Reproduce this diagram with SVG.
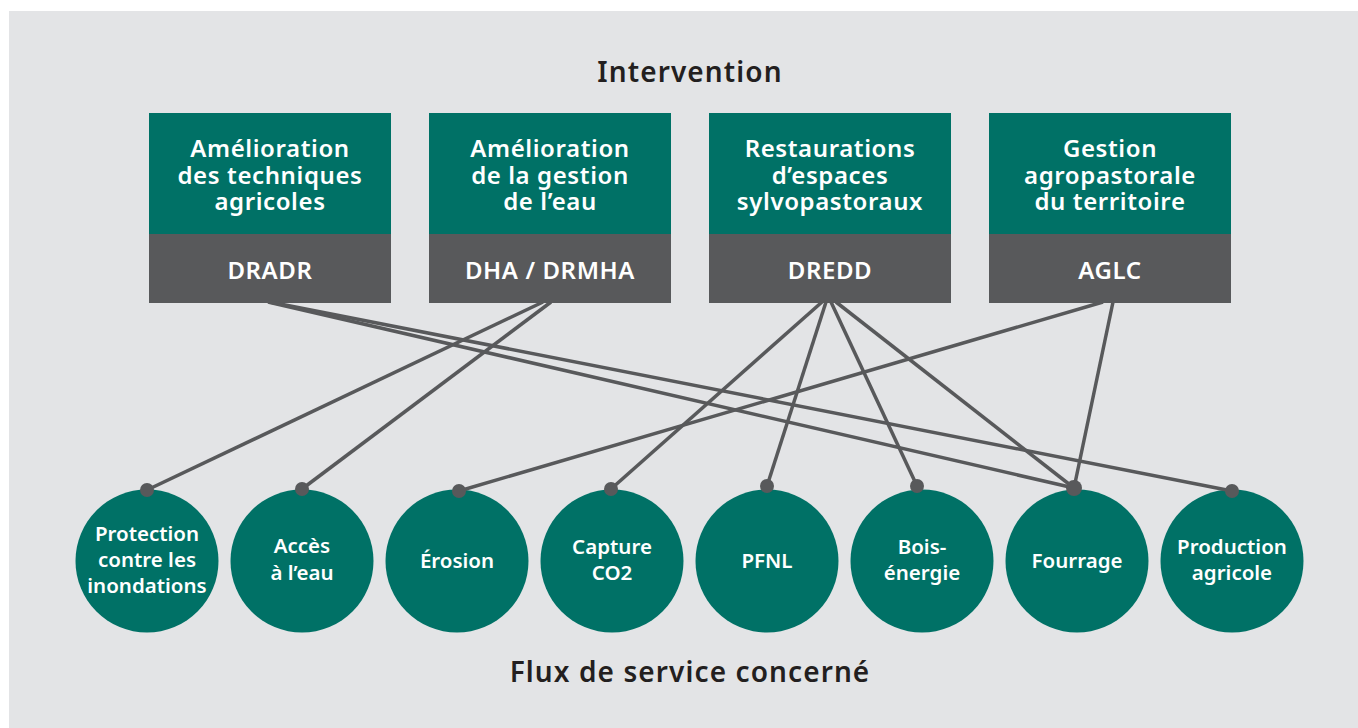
<svg xmlns="http://www.w3.org/2000/svg" width="1358" height="728" viewBox="0 0 1358 728">
<style>
.bg{fill:#e3e4e6}
.top{fill:#007166}
.bot{fill:#58595b}
.circ{fill:#007166}
.bt{font-family:"Noto Sans",Lato,sans-serif;font-weight:600;font-size:24px;letter-spacing:0.6px;fill:#ffffff;text-anchor:middle}
.ct{font-family:"Noto Sans",Lato,sans-serif;font-weight:600;font-size:20.5px;fill:#ffffff;text-anchor:middle}
.title{font-family:"Noto Sans",Lato,sans-serif;font-weight:600;font-size:28px;letter-spacing:1.1px;fill:#231f20;text-anchor:middle}
.ln{stroke:#58595b;stroke-width:3.5;fill:none}
.dot{fill:#58595b}
</style>
<rect x="0" y="0" width="1358" height="728" fill="#ffffff"/>
<rect class="bg" x="9" y="11" width="1349" height="717"/>
<text class="title" x="690" y="82">Intervention</text>
<text class="title" x="690" y="682">Flux de service concerné</text>

<g id="box-techniques">
<rect class="top" x="149" y="113" width="242" height="121"/>
<rect class="bot" x="149" y="234" width="242" height="69"/>
<text class="bt" x="270" y="157">Amélioration</text>
<text class="bt" x="270" y="183.5">des techniques</text>
<text class="bt" x="270" y="210">agricoles</text>
<text class="bt" x="270" y="279">DRADR</text>
</g>
<g id="box-eau">
<rect class="top" x="429" y="113" width="242" height="121"/>
<rect class="bot" x="429" y="234" width="242" height="69"/>
<text class="bt" x="550" y="157">Amélioration</text>
<text class="bt" x="550" y="183.5">de la gestion</text>
<text class="bt" x="550" y="210">de l’eau</text>
<text class="bt" x="550" y="279">DHA / DRMHA</text>
</g>
<g id="box-sylvo">
<rect class="top" x="709" y="113" width="242" height="121"/>
<rect class="bot" x="709" y="234" width="242" height="69"/>
<text class="bt" x="830" y="157">Restaurations</text>
<text class="bt" x="830" y="183.5">d’espaces</text>
<text class="bt" x="830" y="210">sylvopastoraux</text>
<text class="bt" x="830" y="279">DREDD</text>
</g>
<g id="box-agro">
<rect class="top" x="989" y="113" width="242" height="121"/>
<rect class="bot" x="989" y="234" width="242" height="69"/>
<text class="bt" x="1110" y="157">Gestion</text>
<text class="bt" x="1110" y="183.5">agropastorale</text>
<text class="bt" x="1110" y="210">du territoire</text>
<text class="bt" x="1110" y="279">AGLC</text>
</g>

<g id="c-protection"><circle class="circ" cx="147" cy="561" r="71.5"/>
<text class="ct" x="147" y="541">Protection</text><text class="ct" x="147" y="567">contre les</text><text class="ct" x="147" y="593">inondations</text></g>
<g id="c-acces"><circle class="circ" cx="302" cy="561" r="71.5"/>
<text class="ct" x="302" y="553">Accès</text><text class="ct" x="302" y="580">à l’eau</text></g>
<g id="c-erosion"><circle class="circ" cx="457" cy="561" r="71.5"/>
<text class="ct" x="457" y="568">Érosion</text></g>
<g id="c-capture"><circle class="circ" cx="612" cy="561" r="71.5"/>
<text class="ct" x="612" y="554">Capture</text><text class="ct" x="612" y="580">CO2</text></g>
<g id="c-pfnl"><circle class="circ" cx="767" cy="561" r="71.5"/>
<text class="ct" x="767" y="568">PFNL</text></g>
<g id="c-bois"><circle class="circ" cx="922" cy="561" r="71.5"/>
<text class="ct" x="922" y="554">Bois-</text><text class="ct" x="922" y="580">énergie</text></g>
<g id="c-fourrage"><circle class="circ" cx="1077" cy="561" r="71.5"/>
<text class="ct" x="1077" y="568">Fourrage</text></g>
<g id="c-production"><circle class="circ" cx="1232" cy="561" r="71.5"/>
<text class="ct" x="1232" y="554">Production</text><text class="ct" x="1232" y="580">agricole</text></g>

<g id="connectors">
<line class="ln" x1="268" y1="302" x2="1074" y2="488"/>
<line class="ln" x1="270" y1="302" x2="1232" y2="491"/>
<line class="ln" x1="543" y1="302" x2="147" y2="490"/>
<line class="ln" x1="551" y1="302" x2="302" y2="489"/>
<line class="ln" x1="822" y1="302" x2="611" y2="489"/>
<line class="ln" x1="826" y1="302" x2="767" y2="486"/>
<line class="ln" x1="831" y1="302" x2="917" y2="486"/>
<line class="ln" x1="836" y1="302" x2="1074" y2="488"/>
<line class="ln" x1="1103" y1="302" x2="459" y2="491"/>
<line class="ln" x1="1113" y1="302" x2="1074" y2="488"/>
<circle class="dot" cx="147" cy="490" r="7"/>
<circle class="dot" cx="302" cy="489" r="7"/>
<circle class="dot" cx="459" cy="491" r="7"/>
<circle class="dot" cx="611" cy="489" r="7"/>
<circle class="dot" cx="767" cy="486" r="7"/>
<circle class="dot" cx="917" cy="486" r="7"/>
<circle class="dot" cx="1074" cy="488" r="8"/>
<circle class="dot" cx="1232" cy="491" r="7"/>
</g>
</svg>
